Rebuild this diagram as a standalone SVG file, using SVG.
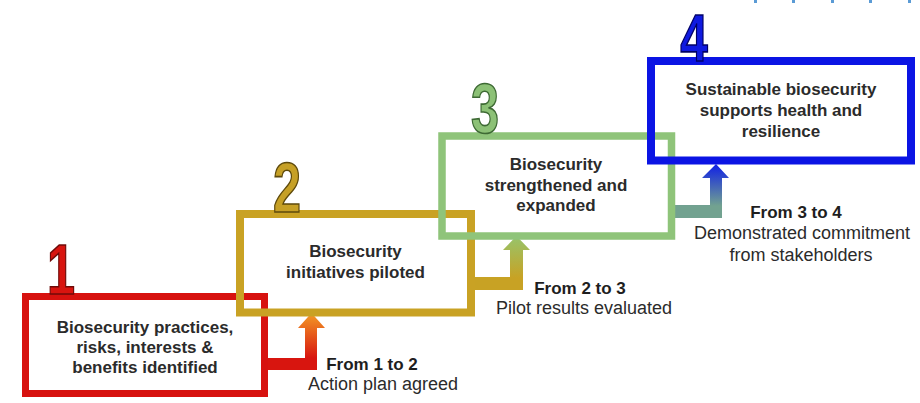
<svg xmlns="http://www.w3.org/2000/svg" width="920" height="403" viewBox="0 0 920 403">
  <defs>
    <style>
      .box { fill: none; }
      .label { font-family: "Liberation Sans", Arial, sans-serif; font-weight: bold; font-size: 17px; fill: #2b2b2b; text-anchor: middle; }
      .step { font-family: "Liberation Sans", Arial, sans-serif; font-weight: bold; font-size: 17px; fill: #1e1e1e; text-anchor: middle; }
      .note { font-family: "Liberation Sans", Arial, sans-serif; font-size: 18px; fill: #2b2b2b; text-anchor: middle; }
      .num { font-family: "Liberation Sans", Arial, sans-serif; font-weight: bold; font-size: 70px; text-anchor: middle; stroke-width: 1.6; }
    </style>
    <!-- arrow shading: colour of the next stage at the tip, colour of the previous stage at the bar -->
    <linearGradient id="g12" gradientUnits="userSpaceOnUse" x1="0" y1="313" x2="0" y2="358">
      <stop offset="0" stop-color="#f39a25"/>
      <stop offset="1" stop-color="#d8150f"/>
    </linearGradient>
    <linearGradient id="g23" gradientUnits="userSpaceOnUse" x1="0" y1="236" x2="0" y2="278">
      <stop offset="0" stop-color="#96c46c"/>
      <stop offset="1" stop-color="#c8a224"/>
    </linearGradient>
    <linearGradient id="g34" gradientUnits="userSpaceOnUse" x1="0" y1="164" x2="0" y2="206">
      <stop offset="0" stop-color="#0f1fe6"/>
      <stop offset="1" stop-color="#72a290"/>
    </linearGradient>
  </defs>

  <rect width="920" height="403" fill="#ffffff"/>

  <!-- clipped link text at the top edge -->
  <g fill="#5b9bd5">
    <rect x="754" y="0" width="3" height="3"/>
    <rect x="792" y="0" width="3" height="3"/>
    <rect x="831" y="0" width="3" height="3"/>
    <rect x="869" y="0" width="3" height="3"/>
    <rect x="908" y="0" width="3" height="3"/>
  </g>

  <!-- connectors between stages -->
  <g id="connectors">
    <path fill="url(#g12)" d="M264,358 H305 V328 H298 L311.5,313 L325,328 H317 V370 H264 Z"/>
    <path fill="url(#g23)" d="M471,277 H510 V250 H503 L516.5,236 L530,250 H523 V290 H471 Z"/>
    <path fill="url(#g34)" d="M672,205 H710 V178 H702 L716,164 L729,178 H722 V218 H672 Z"/>
  </g>

  <g id="stage1">
    <rect class="box" x="25.5" y="296.5" width="239" height="97" stroke="#d7120f" stroke-width="7"/>
    <text class="num" transform="translate(61,294) scale(0.72,1)" fill="#d8140f" stroke="#6e0a08">1</text>
    <text class="label" x="145" y="333">Biosecurity practices,</text>
    <text class="label" x="145" y="353">risks, interests &amp;</text>
    <text class="label" x="145" y="373">benefits identified</text>
  </g>

  <g id="stage2">
    <rect class="box" x="240" y="214" width="231" height="98.5" stroke="#c9a224" stroke-width="8"/>
    <text class="num" transform="translate(287,212) scale(0.72,1)" fill="#c6a026" stroke="#5e4a0c">2</text>
    <text class="label" x="355.5" y="257">Biosecurity</text>
    <text class="label" x="355.5" y="278">initiatives piloted</text>
  </g>

  <g id="stage3">
    <rect class="box" x="442" y="136" width="229.5" height="100" stroke="#8fc47a" stroke-width="7.5"/>
    <text class="num" transform="translate(485,133) scale(0.72,1)" fill="#8cc176" stroke="#3e6a34">3</text>
    <text class="label" x="556" y="170">Biosecurity</text>
    <text class="label" x="556" y="191">strengthened and</text>
    <text class="label" x="556" y="211">expanded</text>
  </g>

  <g id="stage4">
    <rect class="box" x="651" y="61" width="260" height="99.5" stroke="#0b14e4" stroke-width="8"/>
    <text class="num" style="font-size:67px" transform="translate(694,61) scale(0.74,1)" fill="#0f1ae0" stroke="#000066">4</text>
    <text class="label" x="781" y="95">Sustainable biosecurity</text>
    <text class="label" x="781" y="116">supports health and</text>
    <text class="label" x="781" y="137">resilience</text>
  </g>

  <!-- transition labels -->
  <g id="t12">
    <text class="step" x="372" y="370">From 1 to 2</text>
    <text class="note" x="383" y="390">Action plan agreed</text>
  </g>
  <g id="t23">
    <text class="step" x="580" y="294">From 2 to 3</text>
    <text class="note" x="584" y="314">Pilot results evaluated</text>
  </g>
  <g id="t34">
    <text class="step" x="796" y="218">From 3 to 4</text>
    <text class="note" x="802" y="239">Demonstrated commitment</text>
    <text class="note" x="801" y="261">from stakeholders</text>
  </g>
</svg>
